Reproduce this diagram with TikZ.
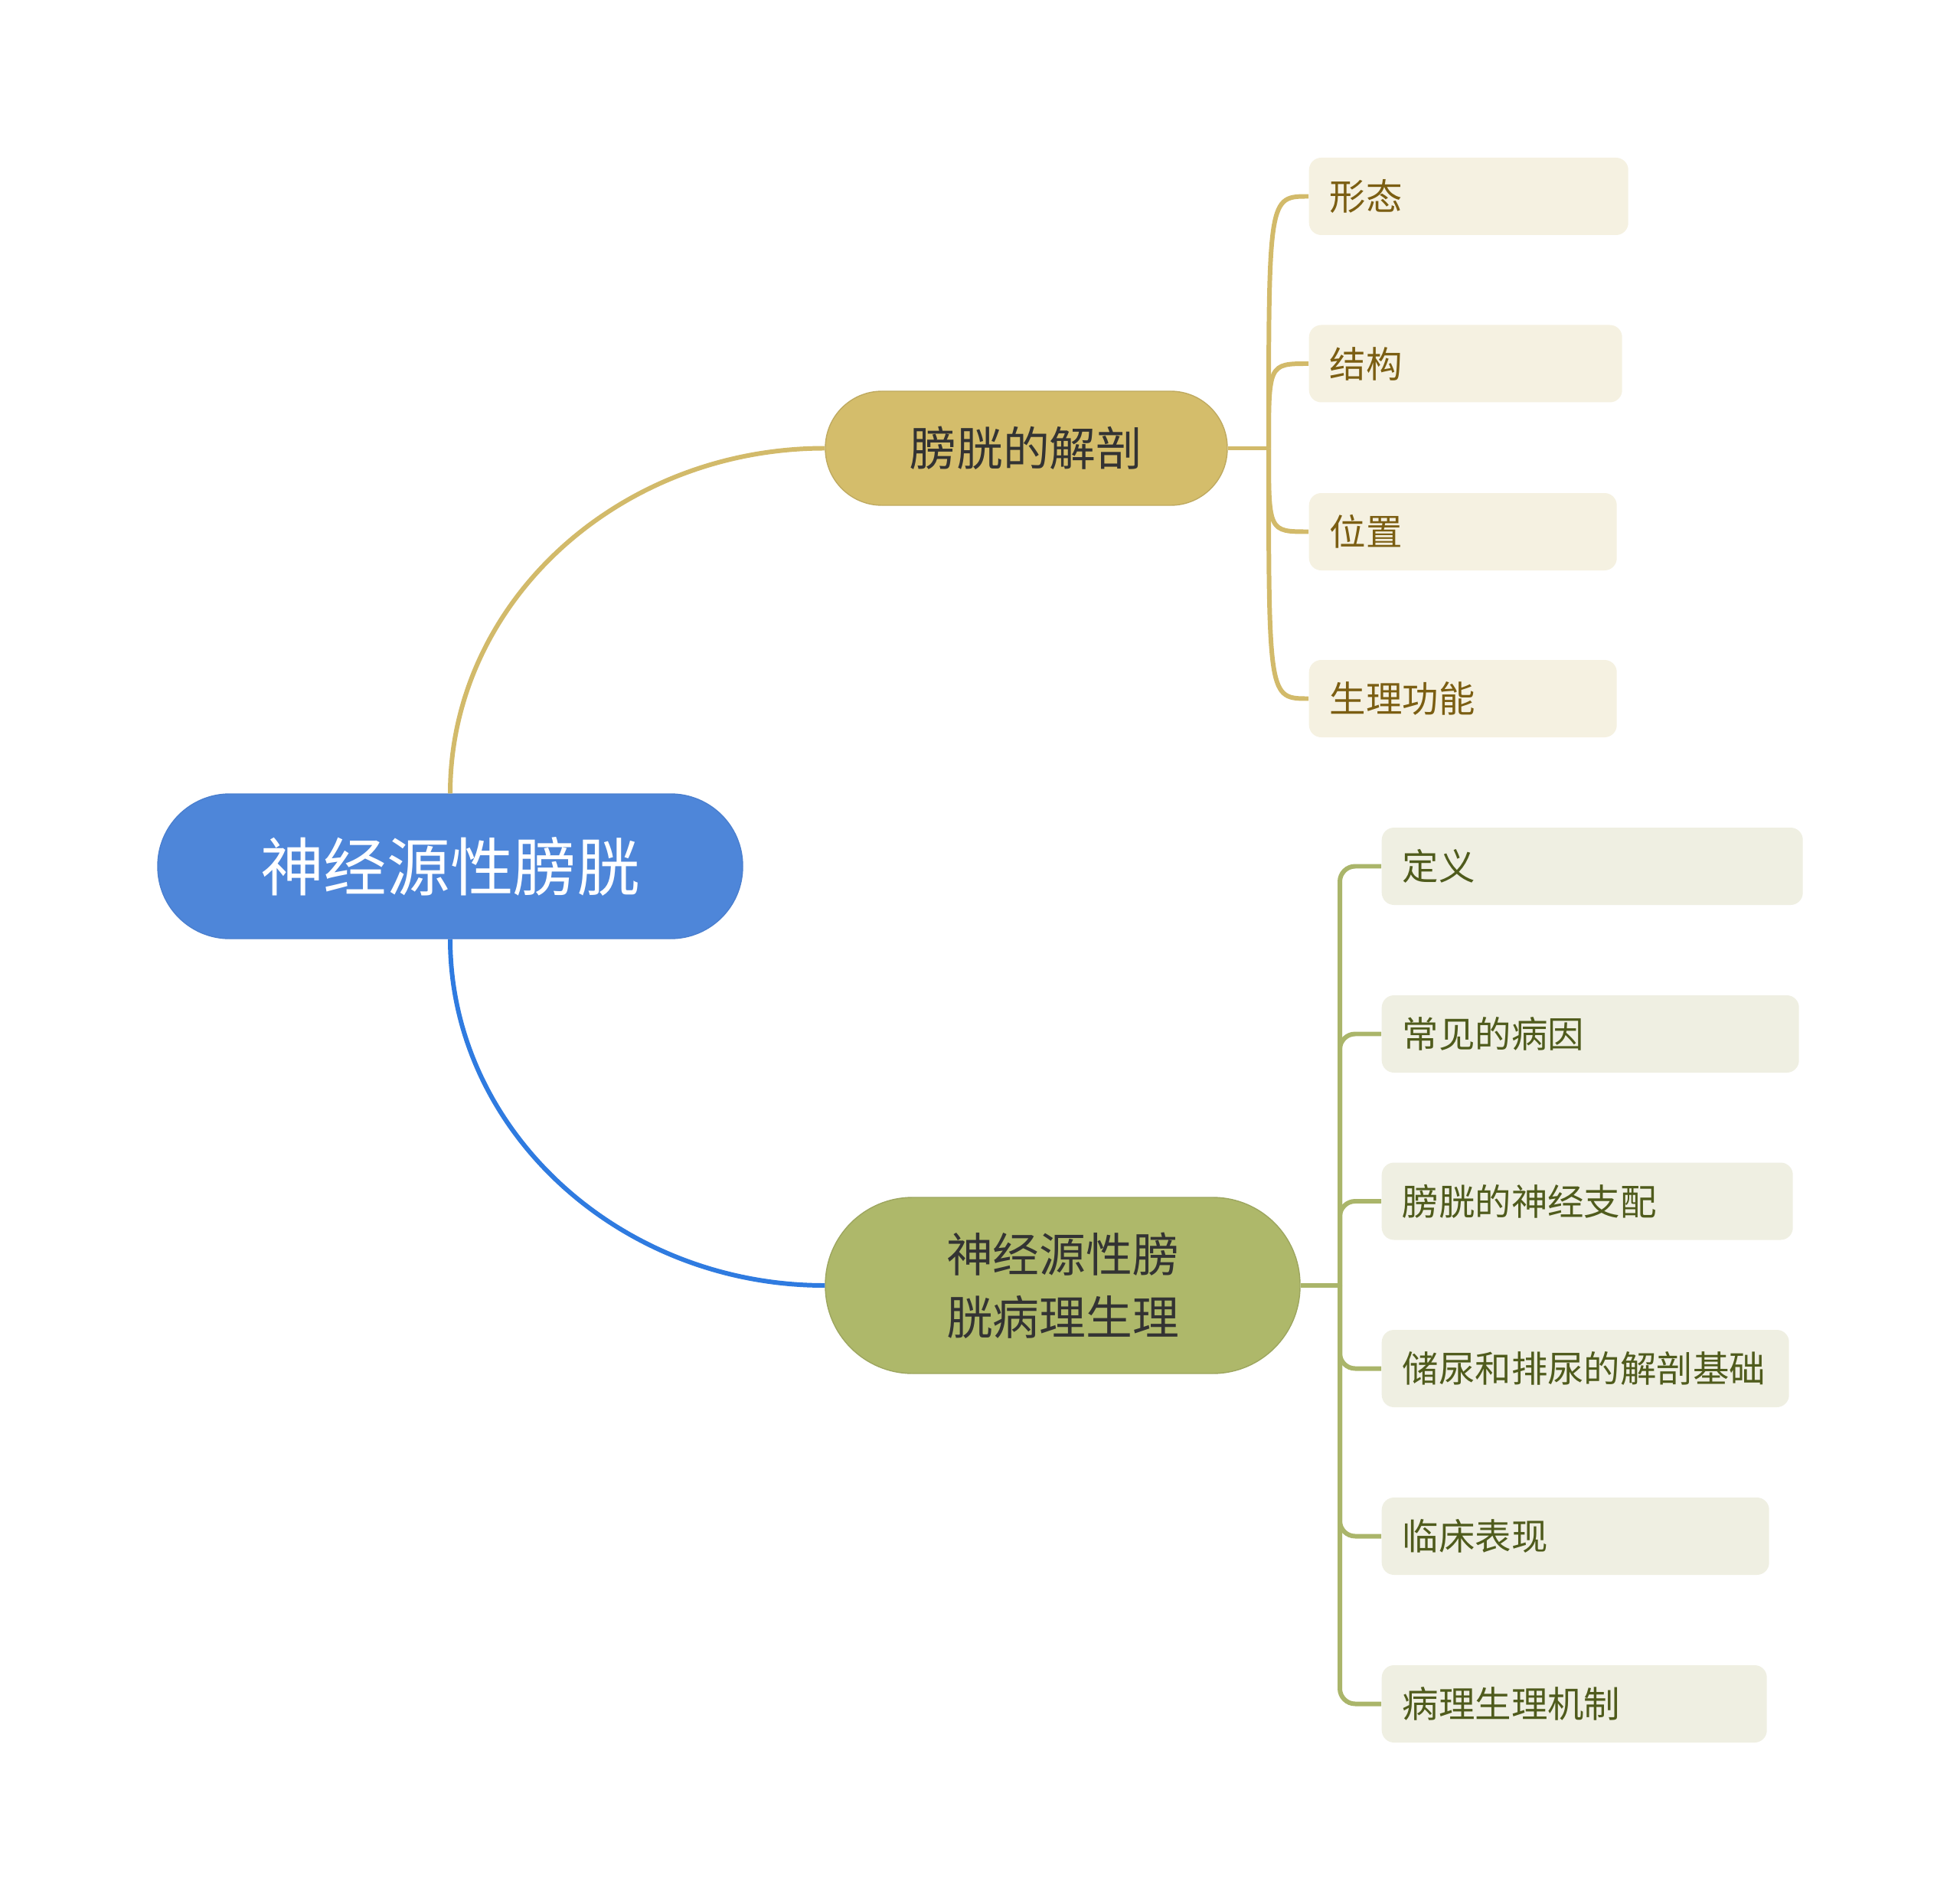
\documentclass[tikz,border=0pt]{standalone}
\usepackage{fontspec}
\setmainfont{Noto Sans CJK SC}
\usepackage{tikz}
\usetikzlibrary{calc}

\definecolor{rootblue}{HTML}{4E86D9}
\definecolor{rootedge}{HTML}{4A7FCF}
\definecolor{blueline}{HTML}{2F7BE0}
\definecolor{anatgold}{HTML}{D4BD6B}
\definecolor{goldline}{HTML}{D2BA6A}
\definecolor{anatleaf}{HTML}{F5F1E1}
\definecolor{anattext}{HTML}{7B5E12}
\definecolor{patholive}{HTML}{AEB86A}
\definecolor{oliveline}{HTML}{AAB56A}
\definecolor{pathleaf}{HTML}{EFEFE2}
\definecolor{pathtext}{HTML}{4F5B1C}
\definecolor{darktext}{HTML}{333333}

\begin{document}
\begin{tikzpicture}[
    root/.style={rectangle, fill=rootblue, draw=rootedge, rounded corners=0.94cm, minimum width=7.64cm, minimum height=1.89cm, align=center, text=white, font=\fontsize{23.5}{28}\selectfont},
    anat/.style={rectangle, fill=anatgold, draw=anatgold!90!black, rounded corners=0.74cm, minimum width=5.25cm, minimum height=1.49cm, align=center, text=darktext, font=\fontsize{17.3}{23.2}\selectfont},
    patho/.style={rectangle, fill=patholive, draw=patholive!90!black, rounded corners=1.14cm, minimum width=6.2cm, minimum height=2.3cm, align=center, text=darktext, font=\fontsize{17.3}{23.2}\selectfont},
    leafup/.style={rectangle, fill=anatleaf, rounded corners=0.16cm, anchor=west, minimum height=1.01cm, inner xsep=0.27cm, align=left, text=anattext, font=\fontsize{13.5}{16}\selectfont},
    leafdown/.style={rectangle, fill=pathleaf, rounded corners=0.16cm, anchor=west, minimum height=1.01cm, inner xsep=0.27cm, align=left, text=pathtext, font=\fontsize{13.5}{16}\selectfont},
    goldconn/.style={goldline, line width=1.7pt},
    blueconn/.style={blueline, line width=1.7pt},
    oliveconn/.style={oliveline, line width=1.7pt, rounded corners=0.2cm}
]
    \useasboundingbox (0,0) rectangle (25.6,-24.83);

    % Centre topic
    \node[root] (root) at (5.88,-11.315) {神经源性膀胱};

    % Main branches
    \node[anat] (anat) at (13.405,-5.855) {膀胱的解剖};
    \node[patho] (patho) at (13.88,-16.79) {神经源性膀\\胱病理生理};

    % Leaves of the anatomy branch
    \node[leafup, text width=3.63cm] (form) at (17.09,-2.565) {形态};
    \node[leafup, text width=3.55cm] (struct) at (17.09,-4.75) {结构};
    \node[leafup, text width=3.48cm] (place) at (17.09,-6.945) {位置};
    \node[leafup, text width=3.48cm] (func) at (17.09,-9.125) {生理功能};

    % Leaves of the pathophysiology branch
    \node[leafdown, text width=4.96cm] (defn) at (18.04,-11.315) {定义};
    \node[leafdown, text width=4.91cm] (cause) at (18.04,-13.505) {常见的病因};
    \node[leafdown, text width=4.83cm] (nerve) at (18.04,-15.69) {膀胱的神经支配};
    \node[leafdown, text width=4.78cm] (basis) at (18.04,-17.875) {储尿和排尿的解剖基础};
    \node[leafdown, text width=4.52cm] (clinic) at (18.04,-20.065) {临床表现};
    \node[leafdown, text width=4.49cm] (mech) at (18.04,-22.255) {病理生理机制};

    % Junctions
    \coordinate (ja) at (16.57,-5.855);
    \coordinate (jb) at (17.5,-16.79);

    % Centre to branches
    \draw[goldconn] (root.north) .. controls +(0,2.5) and +(-2.69,0) .. (anat.west);
    \draw[blueconn] (root.south) .. controls +(0,-2.49) and +(-2.69,0) .. (patho.west);

    % Anatomy branch to leaves
    \draw[goldconn] (anat.east) -- (ja);
    \draw[goldconn] (ja) .. controls (ja |- form.west) and (ja |- form.west) .. (form.west);
    \draw[goldconn] (ja) .. controls (ja |- struct.west) and (ja |- struct.west) .. (struct.west);
    \draw[goldconn] (ja) .. controls (ja |- place.west) and (ja |- place.west) .. (place.west);
    \draw[goldconn] (ja) .. controls (ja |- func.west) and (ja |- func.west) .. (func.west);

    % Pathophysiology branch to leaves
    \draw[oliveconn] (patho.east) -- (jb);
    \draw[oliveconn] (jb) -- (jb |- defn.west) -- (defn.west);
    \draw[oliveconn] (jb) -- (jb |- cause.west) -- (cause.west);
    \draw[oliveconn] (jb) -- (jb |- nerve.west) -- (nerve.west);
    \draw[oliveconn] (jb) -- (jb |- basis.west) -- (basis.west);
    \draw[oliveconn] (jb) -- (jb |- clinic.west) -- (clinic.west);
    \draw[oliveconn] (jb) -- (jb |- mech.west) -- (mech.west);
\end{tikzpicture}
\end{document}
